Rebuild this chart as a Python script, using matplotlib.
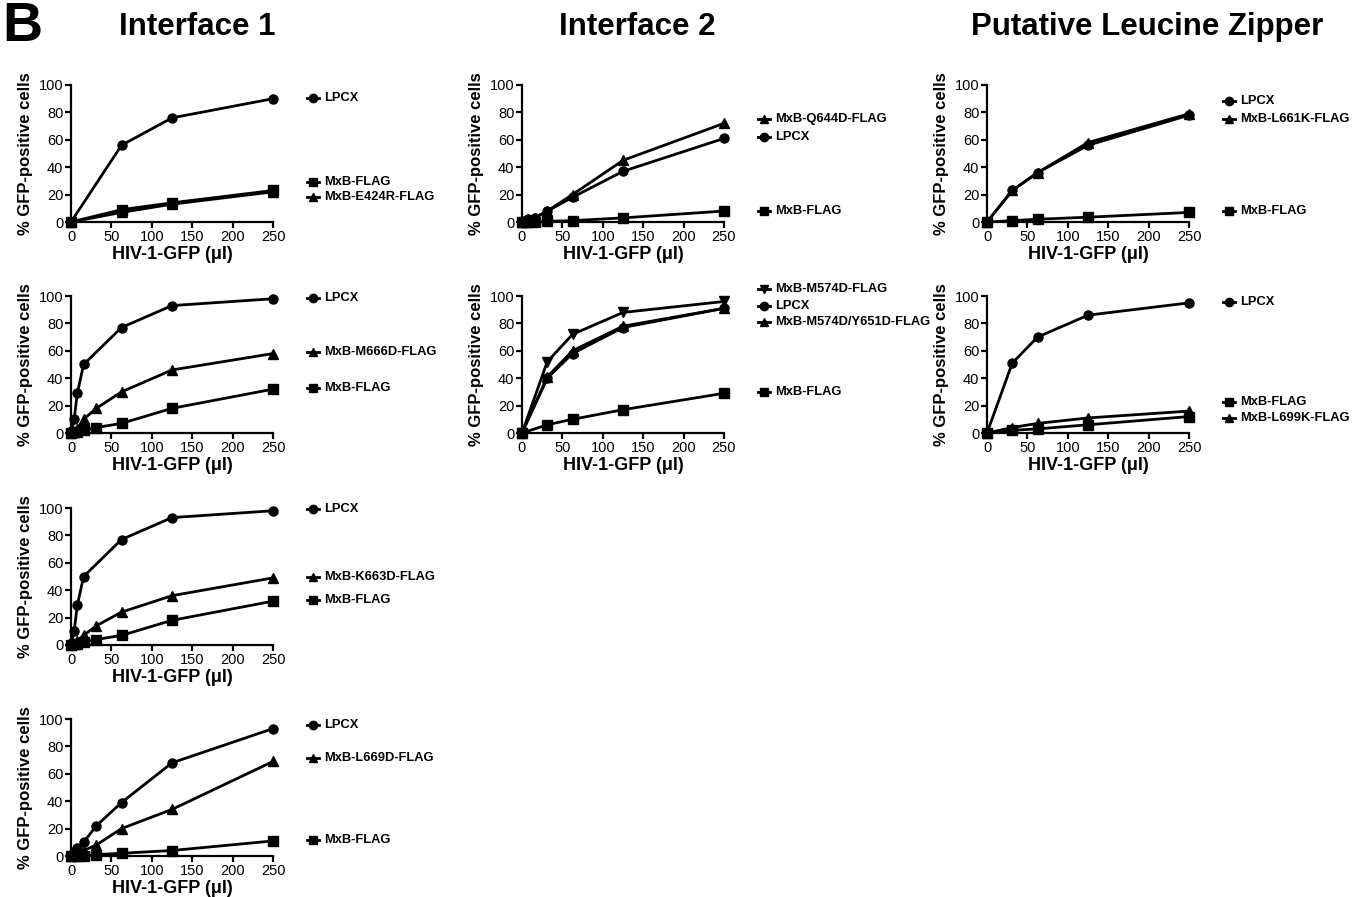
import matplotlib
matplotlib.use("Agg")
import matplotlib.pyplot as plt
import matplotlib.transforms as mtransforms

plt.rcParams['font.family'] = ['Liberation Sans', 'DejaVu Sans']

# ---------------- data ----------------
x4 = [0, 62.5, 125, 250]
x5 = [0, 31.25, 62.5, 125, 250]
x8 = [0, 3.9, 7.8, 15.6, 31.25, 62.5, 125, 250]
x7 = [0, 3.9, 7.8, 15.6, 62.5, 125, 250]

# Interface 1, row 1
i1a_lpcx = [0, 56, 76, 90]
i1a_mxb = [0, 9, 14, 23]
i1a_e424r = [0, 7, 13, 22]
# Interface 1, row 2
i1b_lpcx = [0, 10, 29, 50, 77, 93, 98]
i1b_m666d = [0, 1, 3, 10, 18, 30, 46, 58]
i1b_mxb = [0, 0.5, 1, 2, 4, 7, 18, 32]
# Interface 1, row 3
i1c_lpcx = [0, 10, 29, 50, 77, 93, 98]
i1c_k663d = [0, 1, 3, 7, 14, 24, 36, 49]
i1c_mxb = [0, 0.5, 1, 2, 4, 7, 18, 32]
# Interface 1, row 4
i1d_lpcx = [0, 3, 6, 10, 22, 39, 68, 93]
i1d_l669d = [0, 1, 2, 4, 8, 20, 34, 69]
i1d_mxb = [0, 0, 0, 0, 1, 2, 4, 11]
# Interface 2, row 1
i2a_q644d = [0, 1, 2, 3, 8, 20, 45, 72]
i2a_lpcx = [0, 1, 2, 3, 8, 18, 37, 61]
i2a_mxb = [0, 0, 0, 0, 0.5, 1, 3, 8]
# Interface 2, row 2
i2b_m574d = [0, 52, 72, 88, 96]
i2b_lpcx = [0, 40, 58, 77, 91]
i2b_m574d_y651d = [0, 41, 60, 78, 91]
i2b_mxb = [0, 6, 10, 17, 29]
# Putative leucine zipper, row 1
lz_a_lpcx = [0, 23, 36, 56, 78]
lz_a_l661k = [0, 23, 36, 58, 79]
lz_a_mxb = [0, 1, 2, 3.5, 7]
# Putative leucine zipper, row 2
lz_b_lpcx = [0, 51, 70, 86, 95]
lz_b_mxb = [0, 2, 3, 6, 12]
lz_b_l699k = [0, 4, 7, 11, 16]

x_ticks = [0, 50, 100, 150, 200, 250]
y_ticks = [0, 20, 40, 60, 80, 100]

# panels: (row, col, series list, legend list)
# series: (x, y, marker); legend: (label, marker, y-position in data units)
panels = [
    (0, 0, [(x4, i1a_lpcx, 'o'), (x4, i1a_mxb, 's'), (x4, i1a_e424r, '^')],
     [("LPCX", 'o', 90.5), ("MxB-FLAG", 's', 29), ("MxB-E424R-FLAG", '^', 18)]),
    (1, 0, [(x7, i1b_lpcx, 'o'), (x8, i1b_m666d, '^'), (x8, i1b_mxb, 's')],
     [("LPCX", 'o', 98.5), ("MxB-M666D-FLAG", '^', 59), ("MxB-FLAG", 's', 33)]),
    (2, 0, [(x7, i1c_lpcx, 'o'), (x8, i1c_k663d, '^'), (x8, i1c_mxb, 's')],
     [("LPCX", 'o', 99), ("MxB-K663D-FLAG", '^', 50), ("MxB-FLAG", 's', 33)]),
    (3, 0, [(x8, i1d_lpcx, 'o'), (x8, i1d_l669d, '^'), (x8, i1d_mxb, 's')],
     [("LPCX", 'o', 95.6), ("MxB-L669D-FLAG", '^', 71.5), ("MxB-FLAG", 's', 11.7)]),
    (0, 1, [(x8, i2a_q644d, '^'), (x8, i2a_lpcx, 'o'), (x8, i2a_mxb, 's')],
     [("MxB-Q644D-FLAG", '^', 75), ("LPCX", 'o', 62), ("MxB-FLAG", 's', 8)]),
    (1, 1, [(x5, i2b_m574d, 'v'), (x5, i2b_lpcx, 'o'), (x5, i2b_m574d_y651d, '^'), (x5, i2b_mxb, 's')],
     [("MxB-M574D-FLAG", 'v', 105), ("LPCX", 'o', 93), ("MxB-M574D/Y651D-FLAG", '^', 81), ("MxB-FLAG", 's', 30)]),
    (0, 2, [(x5, lz_a_lpcx, 'o'), (x5, lz_a_l661k, '^'), (x5, lz_a_mxb, 's')],
     [("LPCX", 'o', 88), ("MxB-L661K-FLAG", '^', 75), ("MxB-FLAG", 's', 8)]),
    (1, 2, [(x5, lz_b_lpcx, 'o'), (x5, lz_b_mxb, 's'), (x5, lz_b_l699k, '^')],
     [("LPCX", 'o', 95.6), ("MxB-FLAG", 's', 22.6), ("MxB-L699K-FLAG", '^', 11)]),
]

titles = ["Interface 1", "Interface 2", "Putative Leucine Zipper"]

# ---------------- layout ----------------
W, H = 1365, 897
fig = plt.figure(figsize=(W / 100, H / 100), dpi=100)
col_left = [71, 522, 987]
row_bottom = [222, 433, 645, 856]
ax_w, ax_h = 202, 137

for (r, c, series, legend) in panels:
    ax = fig.add_axes([col_left[c] / W, 1 - row_bottom[r] / H, ax_w / W, ax_h / H])
    for (xs, ys, m) in series:
        ax.plot(xs, ys, color='black', lw=2.0, marker=m, ms=6.5,
                markeredgecolor='black', markerfacecolor='black', clip_on=False, zorder=3)
    ax.set_xlim(0, 250)
    ax.set_ylim(0, 100)
    ax.set_xticks(x_ticks)
    ax.set_yticks(y_ticks)
    for s in ['top', 'right']:
        ax.spines[s].set_visible(False)
    for s in ['left', 'bottom']:
        ax.spines[s].set_linewidth(1.6)
    ax.tick_params(direction='out', length=4, width=1.6, labelsize=10.5, pad=1.5)
    ax.set_xlabel("HIV-1-GFP (\u03bcl)", fontsize=13, fontweight='bold', labelpad=2)
    ax.set_ylabel("% GFP-positive cells", fontsize=12, fontweight='bold', labelpad=4)
    trans = mtransforms.blended_transform_factory(ax.transAxes, ax.transData)
    for (lab, m, yv) in legend:
        ax.plot([1.17, 1.23], [yv, yv], transform=trans, color='black', lw=2.0,
                clip_on=False)
        ax.plot([1.20], [yv], transform=trans, marker=m, ms=6, color='black',
                clip_on=False)
        ax.text(1.255, yv, lab, transform=trans, fontsize=9.3, fontweight='bold',
                va='center', ha='left')

title_x = [197, 637, 1147]
for t, xx in zip(titles, title_x):
    fig.text(xx / W, 1 - 27 / H, t, fontsize=22.5, fontweight='bold', ha='center', va='center')
fig.text(0.002, 1 - 1 / H, "B", fontsize=40, fontweight='bold', ha='left', va='top')

fig.savefig("out.png", dpi=100)
